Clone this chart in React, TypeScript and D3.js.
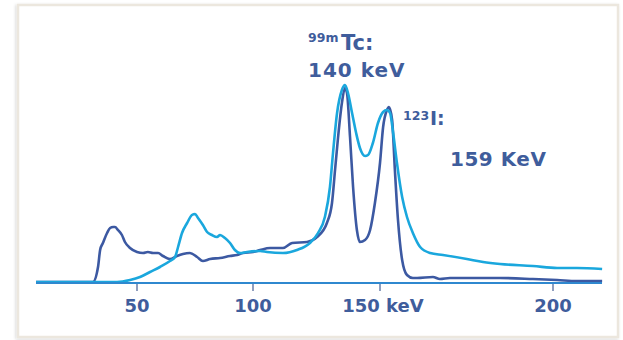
import React from "react";
import * as d3 from "d3";

const W = 623;
const H = 340;

const tickValues = [50, 100, 150, 200];
const tickLabels = ["50", "100", "150 keV", "200"];

// Combined spectrum (darker blue trace): [keV, counts]
const seriesDark: [number, number][] = [
  [6.5, 0], [31.0, 0], [33.2, 7.5], [34.1, 16], [35.3, 19.5], [37.1, 24.5], [38.4, 27],
  [39.7, 27.5], [40.5, 27.5], [41.8, 26], [43.5, 23.5], [44.8, 20], [47.0, 17], [50.0, 15],
  [52.6, 14.5], [54.7, 15], [56.9, 14.5], [59.1, 14.5], [61.2, 13], [64.2, 11.5], [67.2, 13],
  [69.8, 14], [72.8, 14.5], [75.9, 12.5], [78.4, 10.5], [81.5, 11.5], [85.8, 12], [90.1, 13],
  [93.1, 13.5], [95.7, 14.5], [100, 15], [102.8, 16], [106.7, 17], [111.8, 17], [115.4, 19.5],
  [121.3, 20], [125.2, 22.5], [129.1, 29.5], [131.1, 39.5], [132.3, 56], [133.5, 72.5],
  [135.0, 89.5], [136.2, 97], [137.0, 94.5], [138.2, 72.5], [139.4, 47.5], [140.9, 26],
  [142.1, 20], [144.1, 21], [146.1, 26], [148.0, 39.5], [150.0, 59.5], [150.9, 77.5],
  [152.0, 86], [152.6, 87.5], [153.5, 81], [154.3, 56], [155.2, 31], [156.4, 11], [157.8, 3.5],
  [159.5, 2], [160.7, 2], [165.3, 2.5], [167.3, 1.5], [170.2, 2], [175.1, 2], [184.7, 2],
  [194.2, 1.5], [201.2, 1], [206.9, 0.5], [214.2, 0.5],
];

// Second spectrum (light cyan trace): [keV, counts]
const seriesLight: [number, number][] = [
  [6.5, 0], [41.4, 0], [47.0, 1], [51.3, 2.5], [55.6, 5], [59.9, 7.5], [64.2, 10.5],
  [66.4, 12.5], [67.7, 17.5], [69.4, 24.5], [71.6, 29.5], [73.7, 33.5], [75.0, 34], [76.3, 32],
  [78.4, 28.5], [80.2, 25], [82.3, 23.5], [84.5, 22.5], [85.8, 23.5], [87.9, 22], [90.1, 19.5],
  [92.2, 16], [94.4, 14.5], [97.4, 15], [102.8, 15.5], [105.5, 15], [111.8, 14.5], [117.3, 16],
  [122.4, 19.5], [125.6, 24.5], [128.3, 32.5], [130.3, 47.5], [131.5, 64.5], [133.1, 84.5],
  [135.0, 96], [136.2, 98.5], [137.4, 94.5], [139.0, 84.5], [140.6, 74.5], [142.1, 67],
  [144.1, 63], [145.3, 63.5], [147.2, 69.5], [149.2, 79.5], [150.9, 85], [152.0, 86],
  [152.9, 84.5], [153.8, 74.5], [154.9, 59.5], [156.4, 42.5], [157.8, 32.5], [159.5, 24.5],
  [161.6, 17.5], [164.5, 14.5], [168.2, 13.5], [175.1, 11.5], [179.8, 10], [184.7, 9],
  [194.2, 8], [201.2, 7], [206.9, 7], [214.2, 6.5],
];

const FONT = "'DejaVu Sans', sans-serif";
const TEXT_COLOR = "#3f5d9c";

export default function App() {
  // The reference axis is not uniform: piecewise-linear mapping between ticks
  const x = d3.scaleLinear().domain(tickValues).range([137, 253, 380, 553]);
  const y = d3.scaleLinear().domain([0, 100]).range([282, 82]);

  const line = d3
    .line<[number, number]>()
    .x((d) => x(d[0]))
    .y((d) => y(d[1]))
    .curve(d3.curveMonotoneX);

  const axisY = 283;
  const x0 = 36;
  const x1 = 602;

  return (
    <svg
      width={W}
      height={H}
      style={{ position: "absolute", left: 0, top: 0, background: "#ffffff" }}
    >
      <defs>
        <filter id="shadow" x="-5%" y="-5%" width="110%" height="110%">
          <feDropShadow dx="-1" dy="1" stdDeviation="1.5" floodColor="#000" floodOpacity="0.18" />
        </filter>
      </defs>
      <rect
        x={18}
        y={5}
        width={600}
        height={332}
        fill="#ffffff"
        stroke="#ece7de"
        strokeWidth={2.5}
        filter="url(#shadow)"
      />

      <path d={line(seriesDark) || ""} fill="none" stroke="#3c59a2" strokeWidth={2.6} strokeLinejoin="round" />
      <path d={line(seriesLight) || ""} fill="none" stroke="#1aa7dd" strokeWidth={2.6} strokeLinejoin="round" />

      <line x1={x0} x2={x1} y1={axisY} y2={axisY} stroke="#2f88cf" strokeWidth={2.2} />
      {tickValues.map((t, i) => (
        <g key={t}>
          <line x1={x(t)} x2={x(t)} y1={axisY + 1} y2={axisY + 8} stroke="#6a7ea8" strokeWidth={1.5} />
          <text
            x={x(t) + (i === 2 ? 3 : 0)}
            y={312}
            textAnchor="middle"
            fontFamily={FONT}
            fontWeight={700}
            fontSize={18}
            fill={TEXT_COLOR}
          >
            {tickLabels[i]}
          </text>
        </g>
      ))}

      <text fontFamily={FONT} fontWeight={700} fill={TEXT_COLOR}>
        <tspan x={308} y={42} fontSize={12.5}>99m</tspan>
        <tspan x={341} y={50} fontSize={21}>Tc:</tspan>
      </text>
      <text x={308} y={77} fontFamily={FONT} fontWeight={700} fontSize={20} letterSpacing={1} fill={TEXT_COLOR}>
        140 keV
      </text>
      <text fontFamily={FONT} fontWeight={700} fill={TEXT_COLOR}>
        <tspan x={403} y={120} fontSize={12.5}>123</tspan>
        <tspan x={430} y={125} fontSize={19}>I:</tspan>
      </text>
      <text x={450} y={166} fontFamily={FONT} fontWeight={700} fontSize={20} letterSpacing={0.5} fill={TEXT_COLOR}>
        159 KeV
      </text>
    </svg>
  );
}
